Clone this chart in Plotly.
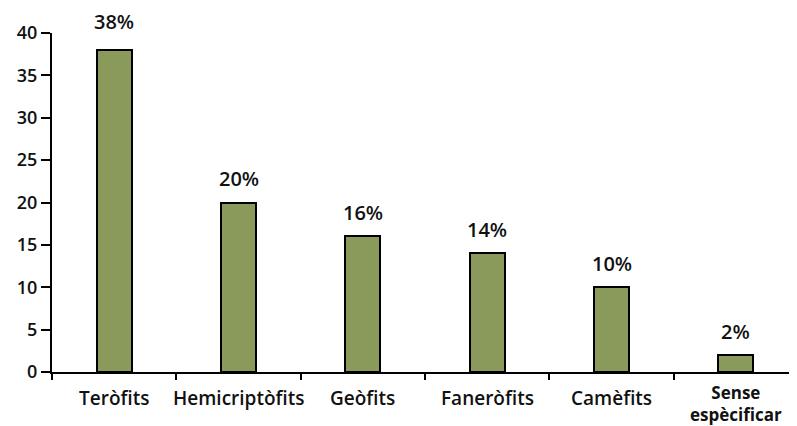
import plotly.graph_objects as go

categories = ["Teròfits", "Hemicriptòfits", "Geòfits", "Faneròfits", "Camèfits", "Sense<br>espècificar"]
values = [38, 20, 16, 14, 10, 2]
labels = ["38%", "20%", "16%", "14%", "10%", "2%"]
label_offsets = [28, 24, 24, 24, 24, 24]

font_family = "Open Sans, Liberation Sans, Arial, sans-serif"

fig = go.Figure()
fig.add_trace(go.Bar(
    x=list(range(len(categories))), y=values,
    width=0.28,
    marker=dict(color="#8A9A5B", line=dict(color="#000000", width=2)),
    hoverinfo="skip",
))

for i, (v, lab, off) in enumerate(zip(values, labels, label_offsets)):
    fig.add_annotation(x=i, y=v, text=lab, showarrow=False,
                       yshift=off, font=dict(size=20, color="#111111", family=font_family, weight=600),
                       yanchor="middle")

# category labels as annotations (two-line label gets a slightly smaller font to fit)
for i, cat in enumerate(categories):
    two_lines = "<br>" in cat
    fig.add_annotation(x=i, y=0, text=cat, showarrow=False,
                       yshift=-8 if two_lines else -12, yanchor="top",
                       borderpad=0,
                       font=dict(size=17 if two_lines else 19, color="#111111",
                                 family=font_family, weight=700 if two_lines else 650))

fig.update_layout(
    width=797, height=426,
    margin=dict(l=44, r=7, t=25, b=62, autoexpand=False),
    plot_bgcolor="white", paper_bgcolor="white",
    showlegend=False,
    bargap=0,
)
fig.update_xaxes(
    range=[-0.5, len(categories) - 0.5],
    showticklabels=False,
    ticks="", showgrid=False, zeroline=False,
    showline=True, linecolor="black", linewidth=2,
    minor=dict(tickmode="array", tickvals=[i - 0.5 for i in range(len(categories) + 1)],
               ticks="outside", ticklen=6, tickcolor="black", tickwidth=1.5),
)
fig.update_yaxes(
    range=[0, 40], dtick=5,
    ticks="outside", ticklen=9, tickcolor="black", tickwidth=1.5,
    showgrid=False, zeroline=False,
    showline=True, linecolor="black", linewidth=2,
    tickfont=dict(size=18, color="#111111", family=font_family, weight=650),
)

fig.write_html("out.html")
